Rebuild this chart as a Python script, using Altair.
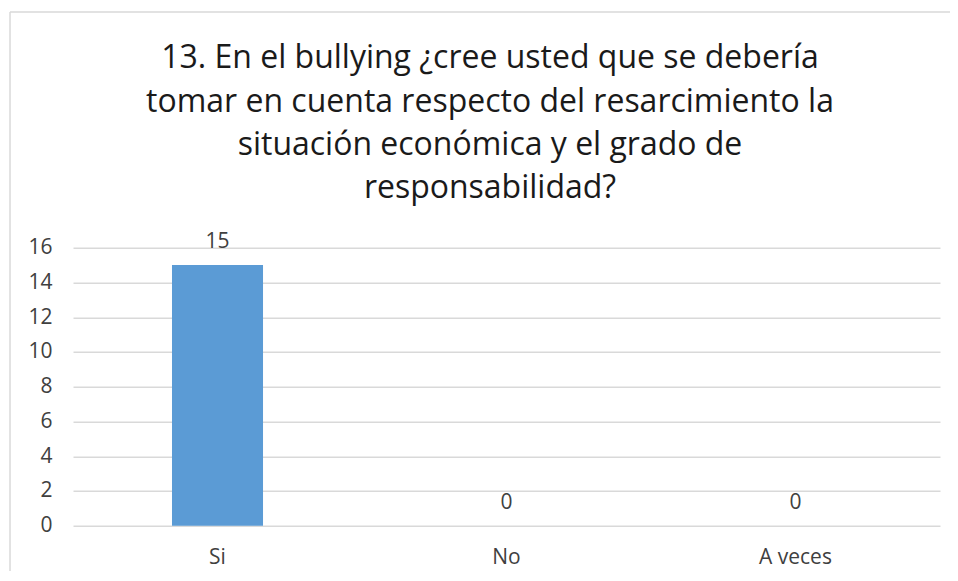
import altair as alt
import pandas as pd

categories = ["Si", "No", "A veces"]
values = [15, 0, 0]
y_ticks = [0, 2, 4, 6, 8, 10, 12, 14, 16]
title_lines = [
    "13. En el bullying ¿cree usted que se debería",
    "tomar en cuenta respecto del resarcimiento la",
    "situación económica y el grado de",
    "responsabilidad?",
]

df = pd.DataFrame({"cat": categories, "val": values})
FONT = "Open Sans"

x_enc = alt.X(
    "cat:N",
    sort=categories,
    scale=alt.Scale(paddingInner=0.685, paddingOuter=0.3425),
    axis=alt.Axis(
        title=None, labelAngle=0, ticks=False, domain=False,
        labelFont=FONT, labelFontSize=21, labelColor="#404040",
        labelPadding=21, grid=False,
    ),
)
y_enc = alt.Y(
    "val:Q",
    scale=alt.Scale(domain=[0, 16], nice=False),
    axis=alt.Axis(
        title=None, values=y_ticks, ticks=False, domain=False,
        labelFont=FONT, labelFontSize=21, labelColor="#404040",
        labelPadding=21, labelOverlap=False,
        grid=True, gridColor="#d9d9d9", gridWidth=1.5,
    ),
)

base = alt.Chart(df).encode(x=x_enc, y=y_enc)
bars = base.mark_bar(color="#5b9bd5")
labels = base.mark_text(
    font=FONT, fontSize=21, color="#404040", baseline="alphabetic", dy=-17
).encode(text="val:Q")

one = pd.DataFrame({"k": [0]})
top_border = alt.Chart(one).mark_rule(color="#d9d9d9", strokeWidth=1.5).encode(
    x=alt.value(-63), x2=alt.value(900), y=alt.value(-235.7)
)
left_border = alt.Chart(one).mark_rule(color="#d9d9d9", strokeWidth=1.5).encode(
    x=alt.value(-63), y=alt.value(-235.7), y2=alt.value(400)
)

title = alt.Chart(one).mark_text(
    text=title_lines,
    font=FONT,
    fontSize=32,
    color="#1a1a1a",
    lineHeight=43.4,
    align="center",
    baseline="alphabetic",
).encode(x=alt.value(417), y=alt.value(-179.4))

chart = (
    alt.layer(top_border, left_border, title, bars, labels)
    .properties(
        width=867,
        height=278,
        autosize=alt.AutoSizeParams(type="none"),
        padding={"left": 65, "top": 239.7, "right": 10, "bottom": 45},
    )
    .configure(background="white")
    .configure_view(stroke="transparent", strokeWidth=0)
)

chart.save("out.html", embed_options={"renderer": "svg", "actions": False})
